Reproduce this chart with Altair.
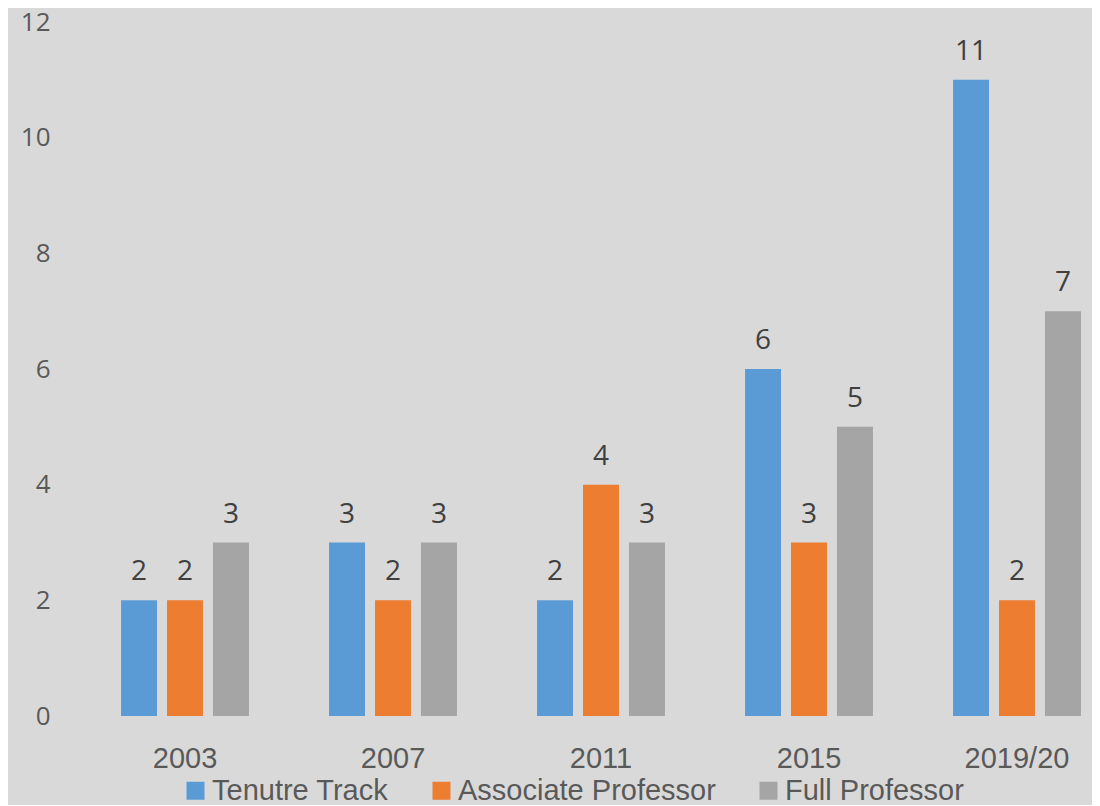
import altair as alt
import pandas as pd

years = ["2003", "2007", "2011", "2015", "2019/20"]
series = ["Tenutre Track", "Associate Professor", "Full Professor"]
tenure = [2, 3, 2, 6, 11]
assoc = [2, 2, 4, 3, 2]
full = [3, 3, 3, 5, 7]
colors = ["#5B9BD5", "#ED7D31", "#A5A5A5"]

rows = []
for name, vals in zip(series, [tenure, assoc, full]):
    for y, v in zip(years, vals):
        rows.append({"year": y, "series": name, "value": v})
df = pd.DataFrame(rows)

sans = "Liberation Sans, Arial, sans-serif"
wide = "Open Sans, DejaVu Sans, sans-serif"

x_enc = alt.X(
    "year:N",
    sort=years,
    scale=alt.Scale(range=[0, 1040], paddingInner=0.385, paddingOuter=0.1925),
    axis=alt.Axis(
        title=None, labelAngle=0, ticks=False, domain=False, labelPadding=28,
        labelFont=sans, labelFontSize=29, labelColor="#595959",
    ),
)
xo_enc = alt.XOffset(
    "series:N", sort=series,
    scale=alt.Scale(paddingInner=0.217, paddingOuter=0),
)
y_enc = alt.Y(
    "value:Q",
    scale=alt.Scale(domain=[0, 12]),
    axis=alt.Axis(
        title=None, values=[0, 2, 4, 6, 8, 10, 12], format="d", grid=False,
        ticks=False, domain=False, labelPadding=31, labelFont=wide,
        labelFontSize=26, labelColor="#595959",
    ),
)

base = alt.Chart(df)

bars = base.mark_bar().encode(
    x=x_enc,
    xOffset=xo_enc,
    y=y_enc,
    color=alt.Color(
        "series:N",
        sort=series,
        scale=alt.Scale(domain=series, range=colors),
        legend=alt.Legend(
            title=None, orient="none", direction="horizontal",
            legendX=100, legendY=754, padding=0,
            symbolType="square", symbolSize=324,
            symbolStrokeWidth=0, labelFont=sans, labelFontSize=29,
            labelColor="#595959", labelOffset=2, columnPadding=38,
            labelLimit=400,
        ),
    ),
)

labels = base.mark_text(
    baseline="alphabetic", dy=-20, font=wide, fontSize=28, color="#404040"
).encode(
    x=x_enc,
    xOffset=xo_enc,
    y=alt.Y("value:Q", scale=alt.Scale(domain=[0, 12])),
    text=alt.Text("value:Q"),
)

chart = (
    alt.layer(bars, labels)
    .properties(
        width=1011,
        height=694,
        autosize=alt.AutoSizeParams(type="none"),
        padding={"left": 73, "top": 14, "right": 0, "bottom": 89},
        background="#D9D9D9",
    )
    .configure_view(stroke=None, fill="#D9D9D9")
)

chart.save("out.html", embed_options={"renderer": "svg", "actions": False})
